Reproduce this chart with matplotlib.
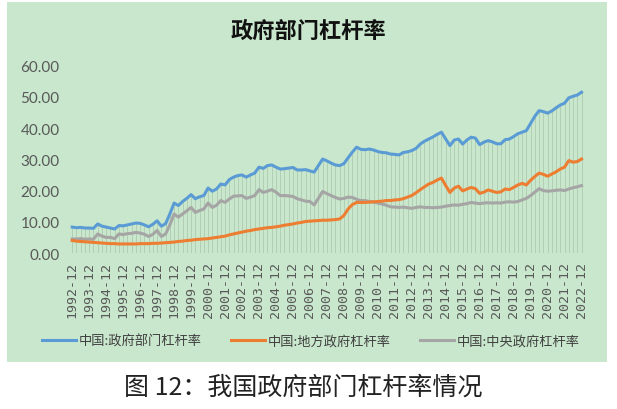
import numpy as np
import matplotlib
matplotlib.use("Agg")
import matplotlib.pyplot as plt
from matplotlib.patches import Rectangle

plt.rcParams['font.family'] = ['Noto Sans CJK SC', 'DejaVu Sans']

# 季度数据 1992-12 ~ 2022-12
years = list(range(1992, 2023))
tick_labels = [f"{y}-12" for y in years]

total = [8.3, 8.1, 8.2, 8.0, 8.0, 7.9, 9.3, 8.6, 8.3, 8.0, 7.7, 8.8, 8.7, 9.0, 9.3, 9.6,
         9.5, 9.0, 8.4, 9.2, 10.3, 8.6, 9.4, 12.5, 16.0, 15.2, 16.5, 17.5, 18.7, 17.4,
         18.0, 18.4, 20.8, 19.8, 20.5, 22.1, 21.8, 23.5, 24.3, 24.8, 25.0, 24.3, 25.0,
         25.6, 27.5, 27.1, 28.0, 28.2, 27.5, 26.9, 27.0, 27.2, 27.4, 26.6, 26.6, 26.7,
         26.3, 25.9, 28.0, 30.1, 29.5, 28.8, 28.2, 28.0, 28.6, 30.5, 32.3, 33.9, 33.2,
         33.1, 33.3, 33.0, 32.5, 32.2, 32.1, 31.7, 31.6, 31.4, 32.2, 32.4, 32.8, 33.5,
         34.9, 35.8, 36.5, 37.2, 38.0, 38.7, 36.5, 34.4, 36.2, 36.5, 34.9, 36.2, 37.1,
         36.8, 34.7, 35.5, 36.0, 35.6, 35.0, 35.0, 36.3, 36.5, 37.3, 38.2, 38.7, 39.2,
         41.5, 43.8, 45.6, 45.3, 44.8, 45.5, 46.5, 47.4, 48.0, 49.7, 50.2, 50.6, 51.5]

local = [4.0, 3.8, 3.7, 3.6, 3.5, 3.4, 3.3, 3.2, 3.1, 3.0, 3.0, 2.9, 2.9, 2.9, 2.9, 2.9,
         3.0, 3.0, 3.0, 3.1, 3.1, 3.2, 3.3, 3.4, 3.5, 3.7, 3.8, 4.0, 4.1, 4.3, 4.4, 4.5,
         4.6, 4.8, 5.0, 5.2, 5.4, 5.8, 6.1, 6.4, 6.7, 7.0, 7.2, 7.5, 7.7, 7.9, 8.1, 8.2,
         8.4, 8.6, 8.9, 9.1, 9.3, 9.6, 9.8, 10.1, 10.2, 10.3, 10.4, 10.5, 10.5, 10.6,
         10.7, 10.9, 12.0, 14.1, 15.5, 16.2, 16.2, 16.2, 16.3, 16.4, 16.5, 16.6, 16.8,
         16.8, 17.0, 17.1, 17.4, 17.9, 18.4, 19.3, 20.3, 21.2, 22.1, 22.6, 23.4, 24.0,
         21.6, 19.4, 20.8, 21.4, 19.9, 20.5, 21.0, 20.6, 19.1, 19.5, 20.2, 19.8, 19.4,
         19.6, 20.5, 20.3, 21.0, 21.8, 22.3, 21.8, 23.3, 24.5, 25.6, 25.2, 24.6, 25.3,
         26.0, 26.9, 27.5, 29.6, 29.1, 29.3, 30.1]

central = [4.5, 4.5, 4.6, 4.4, 4.5, 4.4, 6.1, 5.4, 5.0, 5.0, 4.6, 6.1, 5.9, 6.2, 6.3, 6.6,
           6.4, 6.0, 5.3, 6.0, 7.2, 5.3, 6.1, 9.0, 12.5, 11.5, 12.5, 13.5, 14.6, 13.0,
           13.6, 14.1, 16.0, 14.6, 15.3, 16.8, 16.2, 17.3, 18.2, 18.3, 18.4, 17.5, 17.9,
           18.4, 20.3, 19.4, 19.8, 20.3, 19.5, 18.4, 18.4, 18.3, 18.1, 17.4, 17.0, 16.6,
           16.5, 15.4, 17.5, 19.7, 19.0, 18.4, 17.8, 17.3, 17.5, 17.9, 17.8, 17.2, 16.8,
           16.8, 16.5, 16.3, 16.0, 15.7, 15.3, 14.8, 14.7, 14.6, 14.7, 14.5, 14.3, 14.6,
           14.8, 14.6, 14.6, 14.5, 14.6, 14.7, 15.0, 15.2, 15.4, 15.3, 15.6, 15.8, 16.2,
           16.0, 15.8, 16.0, 16.1, 16.0, 16.1, 16.0, 16.3, 16.4, 16.3, 16.5, 17.0, 17.5,
           18.4, 19.5, 20.6, 20.0, 19.8, 19.9, 20.1, 20.2, 20.0, 20.5, 20.9, 21.2, 21.6]

bg = '#C8E7CC'
W, H = 617, 410
fig = plt.figure(figsize=(W / 100, H / 100), dpi=100)
fig.patch.set_facecolor('white')
fig.patches.append(Rectangle((7 / W, 47 / H), 600 / W, 360 / H, transform=fig.transFigure,
                             facecolor=bg, edgecolor='none', zorder=-5))

ax = fig.add_axes([68 / W, 156 / H, 522 / W, 187.3 / H])
ax.set_facecolor('none')
x = np.arange(len(total))

ax.vlines(x, 0, total, color='#aecbb0', lw=0.6, zorder=1)
ax.plot(x, total, color='#5B9BD5', lw=2.2, label='中国:政府部门杠杆率', zorder=3)
ax.plot(x, local, color='#ED7D31', lw=2.2, label='中国:地方政府杠杆率', zorder=3)
ax.plot(x, central, color='#A5A5A5', lw=2.2, label='中国:中央政府杠杆率', zorder=2)

ax.set_xlim(-1, 122)
ax.set_ylim(0, 60)
ax.set_yticks(np.arange(0, 61, 10))
ax.set_yticklabels([f"{v:.2f}" for v in np.arange(0, 61, 10)], fontfamily='Lato',
                   fontsize=11, color='#595959')
ax.set_xticks(np.arange(0, 121, 4))
ax.set_xticklabels(tick_labels, rotation=90, fontfamily='DejaVu Sans Mono', fontsize=9.5,
                   color='#595959')
ax.tick_params(length=0, pad=6)
for s in ax.spines.values():
    s.set_visible(False)

fig.text(308 / W, 1 - 31 / H, '政府部门杠杆率', ha='center', va='center', fontsize=16,
         fontweight='bold', color='#111111')

fig.legend(*ax.get_legend_handles_labels(), loc='center', ncol=3,
           bbox_to_anchor=(311 / W, 1 - 342 / H), frameon=False, fontsize=9.5,
           handlelength=2.6, columnspacing=2.2, handletextpad=0.2, labelcolor='#404040')

fig.text(303 / W, 1 - 388 / H, '图 12：我国政府部门杠杆率情况', ha='center', va='center',
         fontsize=18, color='#222222')

fig.savefig('out.png', dpi=100, facecolor='white')
